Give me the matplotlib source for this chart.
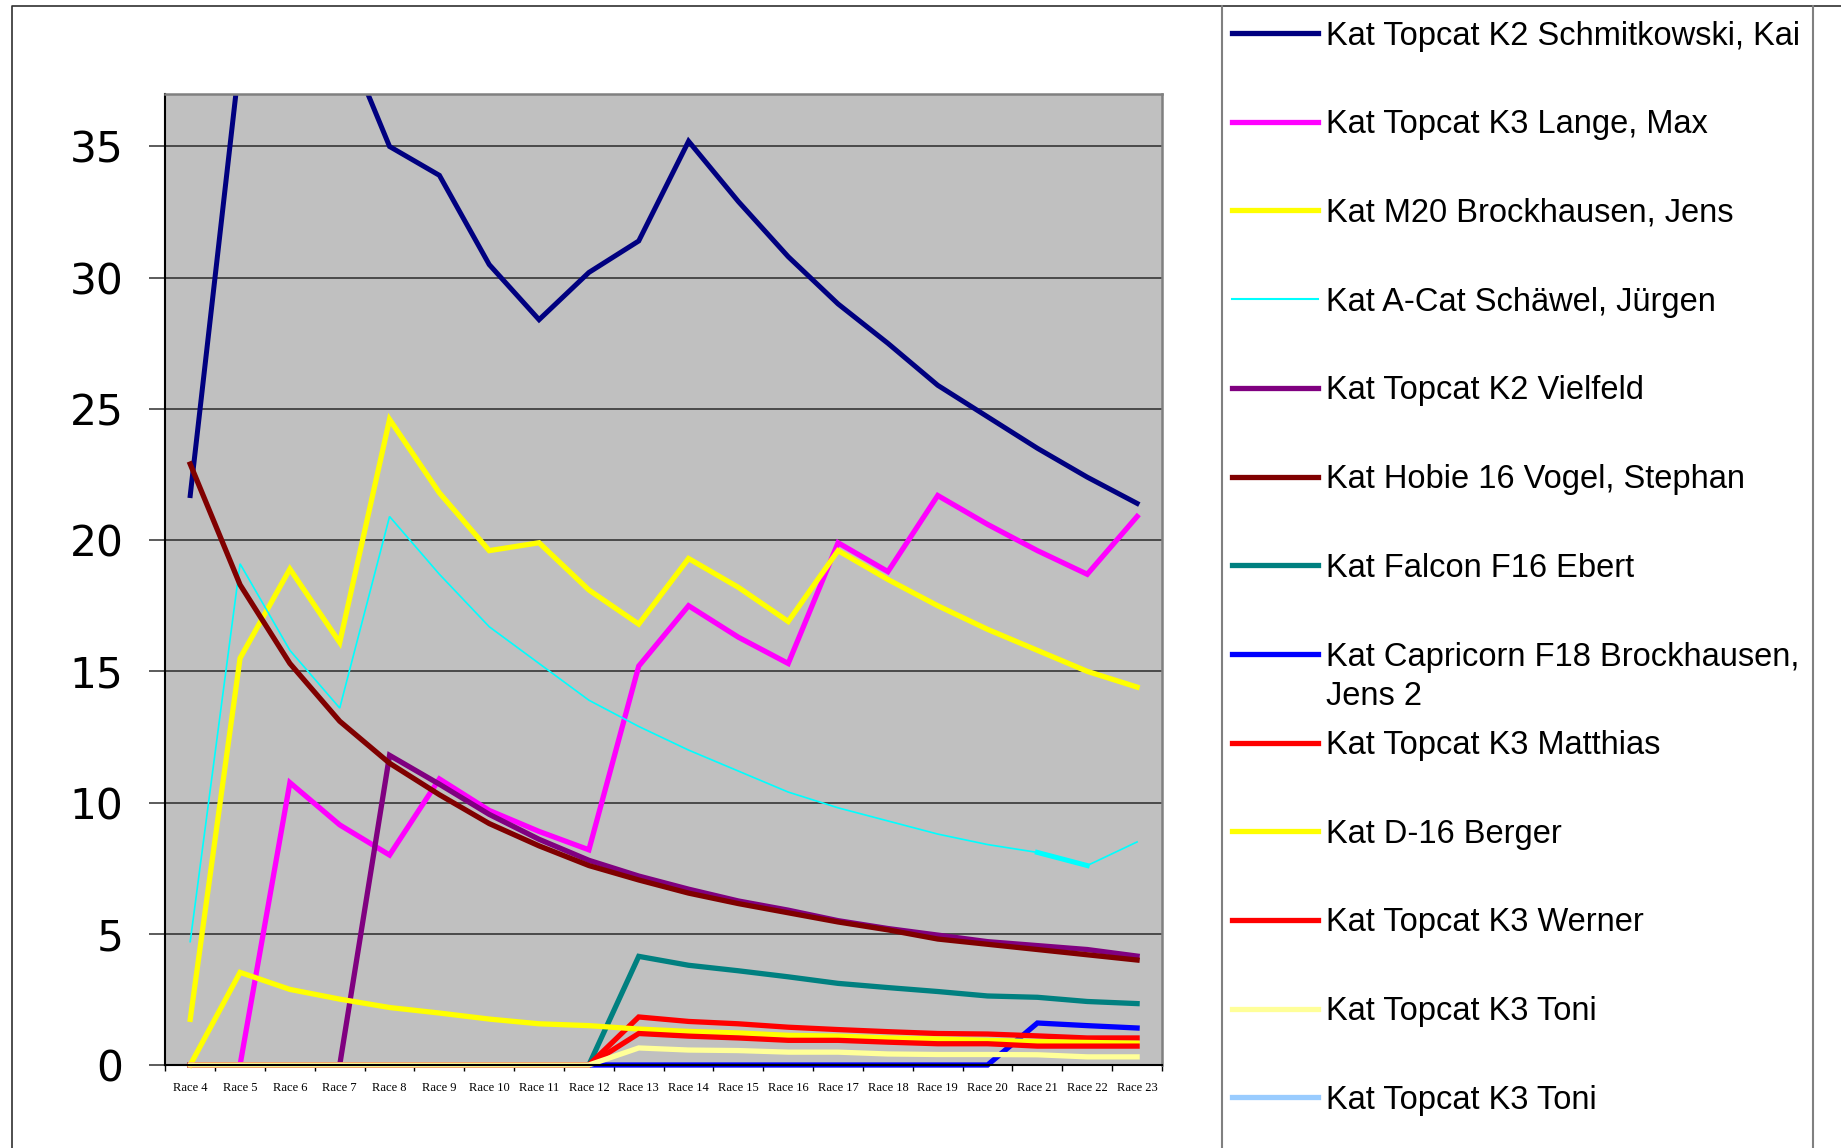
import numpy as np
import matplotlib.pyplot as plt
import matplotlib.transforms as mtransforms
from matplotlib.lines import Line2D

# categories
races = ['Race %d' % i for i in range(4, 24)]

# series values
schmitkowski = [21.7, 38.4, 41.5, 39.6, 35.0, 33.9, 30.5, 28.4, 30.2, 31.4,
                35.2, 32.9, 30.8, 29.0, 27.5, 25.9, 24.7, 23.5, 22.4, 21.4]
lange = [0, 0, 10.76, 9.15, 8.0, 10.9, 9.7, 8.9, 8.2, 15.2,
         17.5, 16.3, 15.3, 19.9, 18.8, 21.7, 20.6, 19.6, 18.7, 20.9]
brockhausen = [1.74, 15.5, 18.9, 16.1, 24.6, 21.8, 19.6, 19.9, 18.1, 16.8,
               19.3, 18.2, 16.9, 19.6, 18.5, 17.5, 16.6, 15.8, 15.0, 14.4]
schaewel = [4.7, 19.1, 15.8, 13.6, 20.9, 18.7, 16.7, 15.3, 13.9, 12.9,
            12.0, 11.2, 10.4, 9.8, 9.3, 8.8, 8.4, 8.1, 7.6, 8.5]
vielfeld = [0, 0, 0, 0, 11.8, 10.7, 9.55, 8.6, 7.8, 7.2,
            6.7, 6.25, 5.9, 5.5, 5.2, 4.95, 4.7, 4.55, 4.4, 4.15]
vogel = [22.9, 18.3, 15.3, 13.1, 11.5, 10.3, 9.2, 8.35, 7.6, 7.05,
         6.55, 6.15, 5.8, 5.45, 5.15, 4.8, 4.6, 4.4, 4.2, 4.0]
ebert = [0, 0, 0, 0, 0, 0, 0, 0, 0, 4.14,
         3.80, 3.59, 3.36, 3.11, 2.95, 2.80, 2.63, 2.58, 2.42, 2.34]
capricorn = [0, 0, 0, 0, 0, 0, 0, 0, 0, 0,
             0, 0, 0, 0, 0, 0, 0, 1.60, 1.50, 1.41]
matthias = [0, 0, 0, 0, 0, 0, 0, 0, 0, 1.83,
            1.66, 1.57, 1.44, 1.35, 1.27, 1.20, 1.18, 1.11, 1.03, 1.03]
berger = [0, 3.53, 2.88, 2.51, 2.19, 1.98, 1.75, 1.57, 1.50, 1.37,
          1.28, 1.22, 1.13, 1.10, 1.03, 0.99, 0.94, 0.89, 0.86, 0.83]
werner = [0, 0, 0, 0, 0, 0, 0, 0, 0, 1.20,
          1.10, 1.03, 0.94, 0.94, 0.87, 0.81, 0.81, 0.72, 0.72, 0.72]
toni = [0, 0, 0, 0, 0, 0, 0, 0, 0, 0.65,
        0.57, 0.55, 0.49, 0.49, 0.42, 0.40, 0.40, 0.39, 0.31, 0.31]
toni2 = [np.nan] * 20

names = ['Kat Topcat K2 Schmitkowski, Kai', 'Kat Topcat K3 Lange, Max',
         'Kat M20 Brockhausen, Jens', 'Kat A-Cat Schäwel, Jürgen',
         'Kat Topcat K2 Vielfeld', 'Kat Hobie 16 Vogel, Stephan',
         'Kat Falcon F16 Ebert', 'Kat Capricorn F18 Brockhausen,\nJens 2',
         'Kat Topcat K3 Matthias', 'Kat D-16 Berger', 'Kat Topcat K3 Werner',
         'Kat Topcat K3 Toni', 'Kat Topcat K3 Toni']
series = [schmitkowski, lange, brockhausen, schaewel, vielfeld, vogel, ebert,
          capricorn, matthias, berger, werner, toni, toni2]
colors = ['#000080', '#FF00FF', '#FFFF00', '#00FFFF', '#800080', '#800000',
          '#008080', '#0000FF', '#FF0000', '#FFFF00', '#FF0000', '#FFFF99',
          '#99CCFF']
widths = [3.6, 3.8, 3.8, 1.2, 3.8, 3.8, 3.8, 3.8, 3.8, 3.8, 3.8, 3.8, 3.8]

W, H = 1841, 1148
fig = plt.figure(figsize=(W / 100, H / 100), dpi=100)
ax = fig.add_axes([165.3 / W, 1 - 1065 / H, 996.7 / W, 971 / H])
ax.set_facecolor('#C0C0C0')

x = np.arange(len(races))
for i, (vals, c, lw) in enumerate(zip(series, colors, widths)):
    # only the top series runs past the axis limits; the others may overhang the zero line
    ax.plot(x, vals, color=c, lw=lw, solid_joinstyle='miter', clip_on=(i == 0))
# one thicker segment on the A-Cat line (Race 21 -> Race 22)
ax.plot(x[17:19], schaewel[17:19], color='#00FFFF', lw=3.6)

ax.set_xlim(-0.5, 19.5)
ax.set_ylim(0, 37)
ax.set_yticks(np.arange(0, 36, 5))
ax.yaxis.grid(True, color='#404040', lw=1.3)
ax.set_axisbelow(True)
ax.tick_params(axis='y', length=11.5, width=1.2, color='#404040', pad=18.5,
               labelsize=30.5)
for lab in ax.get_yticklabels():
    lab.set_family('DejaVu Sans')

ax.set_xticks(np.arange(-0.5, 20, 1))
ax.set_xticklabels([])
ax.set_xticks(x, minor=True)
ax.set_xticklabels(races, minor=True, family='Liberation Serif', fontsize=9)
ax.tick_params(axis='x', which='major', length=4.3, width=1, color='black')
ax.tick_params(axis='x', which='minor', length=0, pad=12)

for s in ['left', 'bottom']:
    ax.spines[s].set_color('black')
    ax.spines[s].set_linewidth(1.5)
for s in ['top', 'right']:
    ax.spines[s].set_color('#808080')
    ax.spines[s].set_linewidth(1.8)

# pixel coordinates (origin top-left) for the frame and legend
px = mtransforms.Affine2D().scale(1 / W, -1 / H).translate(0, 1) + fig.transFigure

fig.add_artist(Line2D([12, 12, W], [H, 6, 6], transform=px, color='#303030', lw=1.2))
fig.add_artist(Line2D([1222, 1222], [6, H], transform=px, color='#808080', lw=1.5))
fig.add_artist(Line2D([1813, 1813], [6, H], transform=px, color='#808080', lw=1.5))

y0, dy = 33, 88.7
for i, (name, c) in enumerate(zip(names, colors)):
    yy = y0 + i * dy
    lw = 1.5 if i == 3 else 3.8
    fig.add_artist(Line2D([1232, 1318], [yy, yy], transform=px, color=c, lw=lw))
    ty = yy + 23 if '\n' in name else yy + 3
    fig.text(1326, ty, name, transform=px, va='center', ha='left',
             family='Liberation Sans', fontsize=23.5, linespacing=1.33)

fig.savefig('out.png', dpi=100)
